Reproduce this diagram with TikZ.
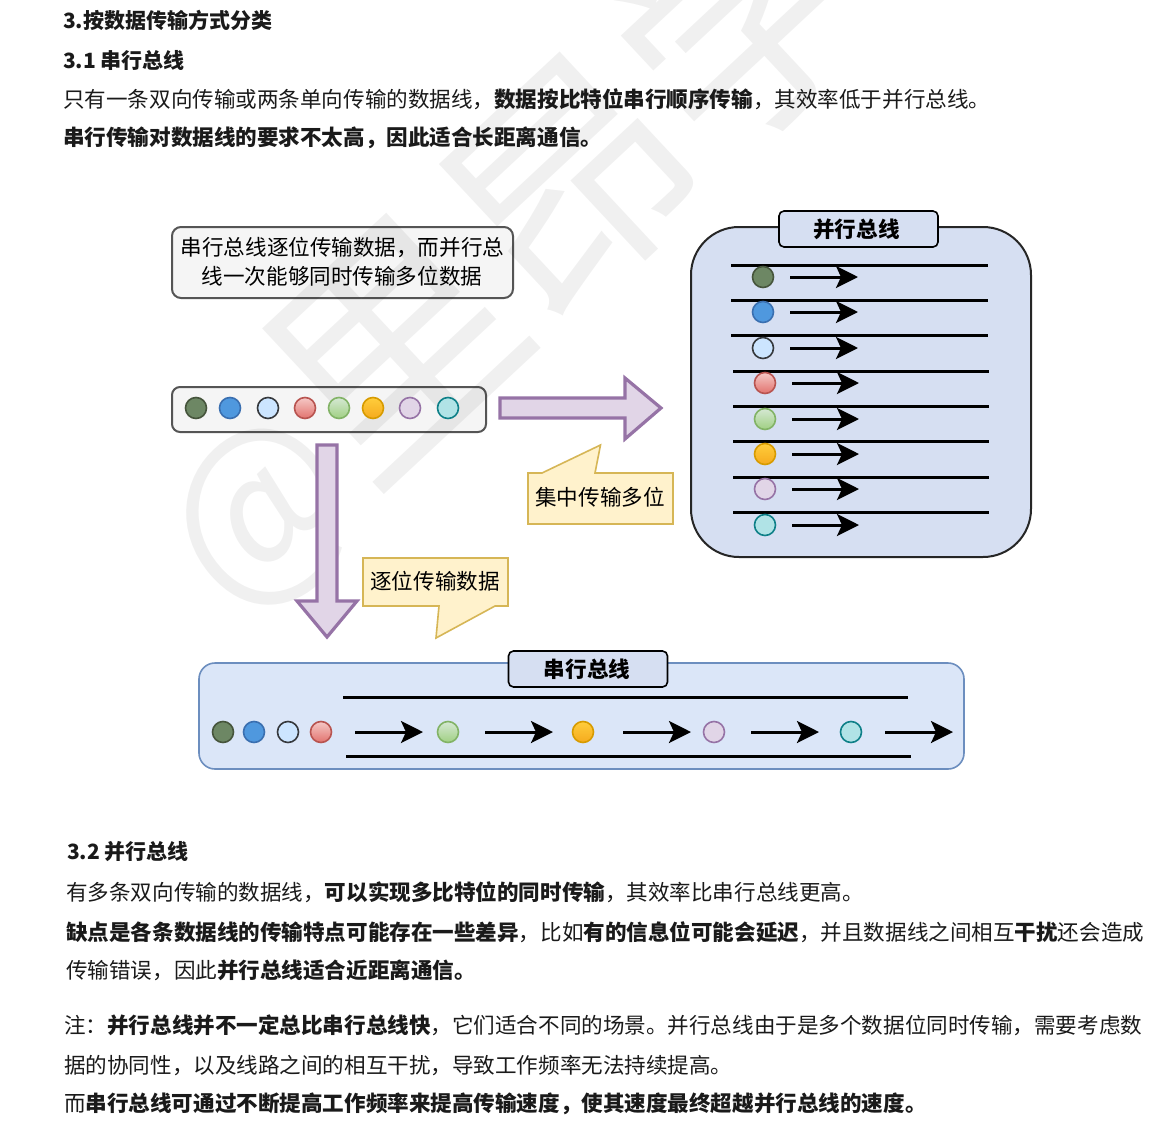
\documentclass[tikz,border=0pt]{standalone}
\usepackage{fontspec}
\setmainfont{Noto Sans CJK SC}
\usetikzlibrary{arrows.meta,shapes.geometric}
\definecolor{ink}{HTML}{1A1A1A}
\definecolor{busfill}{HTML}{D6DFF2}
\definecolor{serialfill}{HTML}{DBE6F8}
\definecolor{purplefill}{HTML}{E1D5E7}
\definecolor{purpleline}{HTML}{9673A6}
\definecolor{notefill}{HTML}{F5F5F5}
\definecolor{noteline}{HTML}{555555}
\definecolor{callfill}{HTML}{FFF2CC}
\definecolor{callline}{HTML}{D6B656}
\newcommand{\bodysize}{\fontsize{21.56}{26}\selectfont}
\tikzset{
  x=1pt,y=-1pt,
  line/.style={anchor=west,inner sep=0pt,text=ink,font=\bodysize},
  dlabel/.style={inner sep=0pt,text=black,font=\bodysize,align=center},
  wire/.style={line width=3pt,black},
  flow/.style={line width=3pt,black,-{Stealth[length=22pt,width=22pt,inset=5pt]}},
  blockarrow/.style={draw=purpleline,fill=purplefill,line width=3.2pt,miter limit=6},
  callout/.style={draw=callline,fill=callfill,line width=1.6pt},
  titlebox/.style={draw=black,fill=busfill,line width=1.6pt,rounded corners=5pt,minimum width=159pt,minimum height=36pt,inner sep=0pt,font=\bodysize\bfseries},
  bit/.style={circle,minimum size=21pt,inner sep=0pt,line width=1.6pt},
  b1/.style={bit,draw={rgb,255:red,70;green,85;blue,60},fill={rgb,255:red,109;green,135;blue,100}},
  b2/.style={bit,draw={rgb,255:red,58;green,111;blue,176},fill={rgb,255:red,79;green,152;blue,222}},
  b3/.style={bit,draw={rgb,255:red,54;green,57;blue,61},fill={rgb,255:red,204;green,229;blue,255}},
  b4/.style={bit,draw={rgb,255:red,184;green,84;blue,80},top color={rgb,255:red,245;green,200;blue,198},bottom color={rgb,255:red,226;green,115;blue,110}},
  b5/.style={bit,draw={rgb,255:red,130;green,179;blue,102},top color={rgb,255:red,213;green,232;blue,212},bottom color={rgb,255:red,160;green,208;blue,130}},
  b6/.style={bit,draw={rgb,255:red,215;green,155;blue,0},top color={rgb,255:red,255;green,205;blue,60},bottom color={rgb,255:red,245;green,170;blue,30}},
  b7/.style={bit,draw=purpleline,fill=purplefill},
  b8/.style={bit,draw={rgb,255:red,14;green,128;blue,136},fill={rgb,255:red,176;green,227;blue,230}},
}
\begin{document}
\begin{tikzpicture}
\useasboundingbox (0,0) rectangle (1152,1122);
\fill[white] (0,0) rectangle (1152,1122);
\clip (0,0) rectangle (1152,1122);

% boxes that the watermark shows through
\node[draw=noteline,fill=notefill,line width=2pt,rounded corners=9pt,minimum width=341pt,minimum height=71pt,inner sep=0pt] (note) at (342.5,262.5) {};
\node[draw=noteline,fill=notefill,line width=2pt,rounded corners=8pt,minimum width=314pt,minimum height=45pt,inner sep=0pt] (row) at (329,409.5) {};

% watermark
\node[rotate=43,opacity=.06,text=black,inner sep=0pt,font=\fontsize{240}{240}\selectfont] (wm) at (506,248) {{\fontsize{190}{240}\selectfont @}里昂学};

% heading text
\node[line,font=\fontsize{21}{26}\selectfont\bfseries] (t1) at (63,20) {3.按数据传输方式分类};
\node[line,font=\fontsize{21}{26}\selectfont\bfseries] (t2) at (63,60) {3.1 串行总线};
\node[line] (t3) at (63,99) {只有一条双向传输或两条单向传输的数据线，\textbf{数据按比特位串行顺序传输}，其效率低于并行总线。};
\node[line,font=\bodysize\bfseries] (t4) at (63,138) {串行传输对数据线的要求不太高，因此适合长距离通信。};

% note
\node[dlabel] (notetext) at (342.5,248) {串行总线逐位传输数据，而并行总};
\node[dlabel] (notetextb) at (342,276) {线一次能够同时传输多位数据};

% source row
\foreach \n/\x in {1/196,2/230,3/268,4/305,5/339,6/373,7/410,8/448}
  \node[b\n] (r\n) at (\x,408) {};

% block arrows
\draw[blockarrow] (500,398) -- (625,398) -- (625,378) -- (661,408) -- (625,439) -- (625,418) -- (500,418) -- cycle;
\draw[blockarrow] (317,445) -- (337,445) -- (337,601) -- (357,601) -- (327,637) -- (297,601) -- (317,601) -- cycle;

% callouts
\draw[callout] (528,473) -- (542,473) -- (600.5,445) -- (595,473) -- (673,473) -- (673,524) -- (528,524) -- cycle;
\node[dlabel] (c1) at (600,497) {集中传输多位};
\draw[callout] (363,558) -- (508,558) -- (508,606) -- (495,606) -- (436,638) -- (439,606) -- (363,606) -- cycle;
\node[dlabel] (c2) at (435,581) {逐位传输数据};

% parallel bus
\node[draw=black!85,fill=busfill,line width=2pt,rounded corners=48pt,minimum width=340pt,minimum height=330pt,inner sep=0pt] (pbus) at (861,392) {};
\node[titlebox] (ptitle) at (858.5,229) {\hspace*{-4pt}并行总线};
\foreach \n/\xa/\xb/\yl/\cx/\cy/\ax/\bx in {
  1/731/988/265/763/277/790/858,
  2/731/988/300/763/312/790/858,
  3/731/988/335/763/348/790/858,
  4/733/989/371/765/383/792/859,
  5/733/989/406/765/419/792/859,
  6/733/989/441/765/454/792/859,
  7/733/989/477/765/489/792/859,
  8/733/989/512/765/525/792/859}{
  \coordinate (pl\n) at (\xa,\yl);
  \coordinate (pr\n) at (\xb,\yl);
  \draw[wire] (pl\n) -- (pr\n);
  \node[b\n] (pb\n) at (\cx,\cy) {};
  \coordinate (pa\n) at (\ax,\cy);
  \coordinate (pe\n) at (\bx,\cy);
  \draw[flow] (pa\n) -- (pe\n);
}

% serial bus
\node[draw={rgb,255:red,108;green,142;blue,191},fill=serialfill,line width=1.6pt,rounded corners=16pt,minimum width=765pt,minimum height=106pt,inner sep=0pt] (sbus) at (581.5,716) {};
\node[titlebox] (stitle) at (588,669) {\hspace*{-2pt}串行总线};
\coordinate (stl) at (343,697); \coordinate (str) at (908,697);
\coordinate (sbl) at (346,756); \coordinate (sbr) at (911,756);
\draw[wire] (stl) -- (str);
\draw[wire] (sbl) -- (sbr);
\foreach \n/\x in {1/223,2/254,3/288,4/321,5/448,6/583,7/714,8/851}
  \node[b\n] (s\n) at (\x,732) {};
\foreach \i/\a/\b in {1/355/423,2/485/553,3/623/691,4/751/819,5/885/953}{
  \coordinate (sa\i) at (\a,732);
  \coordinate (se\i) at (\b,732);
  \draw[flow] (sa\i) -- (se\i);
}

% lower text
\node[line,font=\fontsize{21}{26}\selectfont\bfseries] (t5) at (67,852) {3.2 并行总线};
\node[line] (t6) at (66,892) {有多条双向传输的数据线，\textbf{可以实现多比特位的同时传输}，其效率比串行总线更高。};
\node[line] (t7) at (66,932) {\textbf{缺点是各条数据线的传输特点可能存在一些差异}，比如\textbf{有的信息位可能会延迟}，并且数据线之间相互\textbf{干扰}还会造成};
\node[line] (t8) at (66,970) {传输错误，因此\textbf{并行总线适合近距离通信。}};
\node[line] (t9) at (64,1025) {注：\textbf{并行总线并不一定总比串行总线快}，它们适合不同的场景。并行总线由于是多个数据位同时传输，需要考虑数};
\node[line] (t10) at (64,1066) {据的协同性，以及线路之间的相互干扰，导致工作频率无法持续提高。};
\node[line] (t11) at (64,1104) {而\textbf{串行总线可通过不断提高工作频率来提高传输速度，使其速度最终超越并行总线的速度。}};
\end{tikzpicture}
\end{document}
